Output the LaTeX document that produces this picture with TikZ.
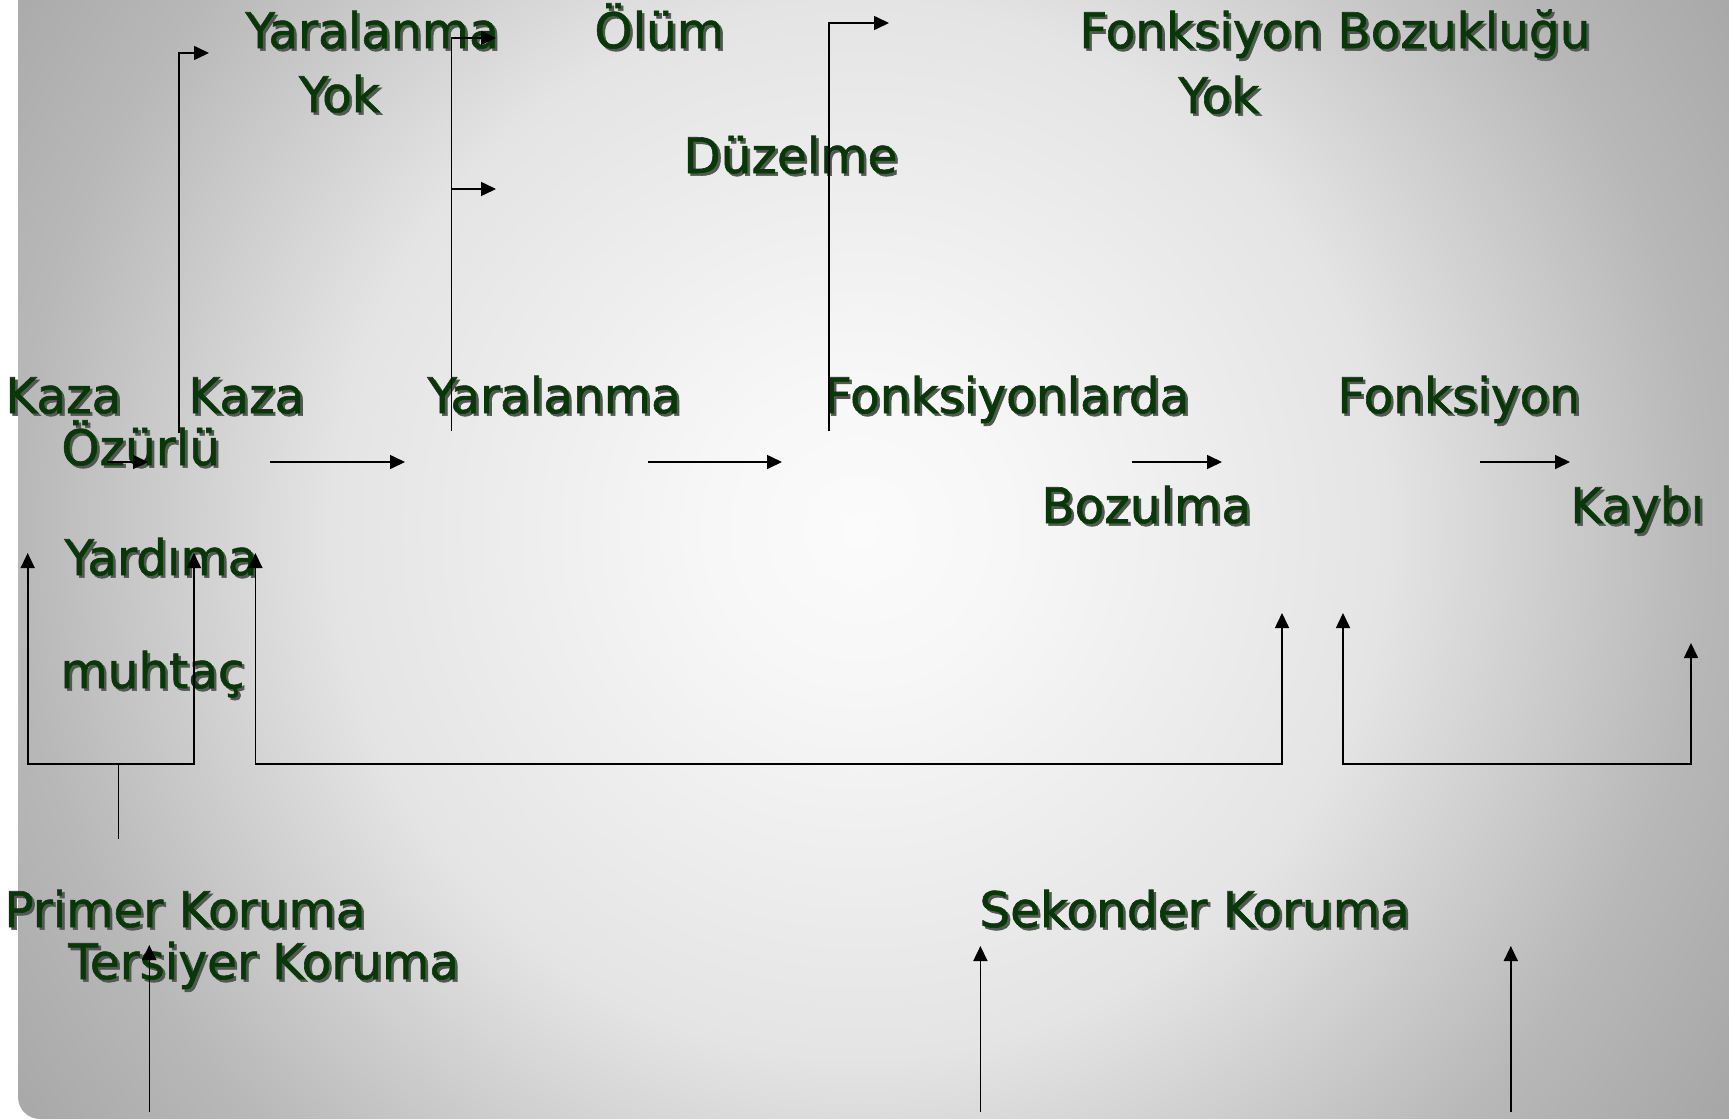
\documentclass[tikz,border=0pt]{standalone}
\usepackage{fontspec}
\setmainfont{DejaVu Sans}[FakeStretch=0.99,FakeBold=1.2]
\usetikzlibrary{arrows.meta}
\definecolor{txtgreen}{RGB}{8,56,8}
\definecolor{shadowc}{RGB}{85,85,85}
\definecolor{bgA}{RGB}{251,251,251}
\definecolor{bgB}{RGB}{247,247,247}
\definecolor{bgC}{RGB}{228,228,228}
\definecolor{bgD}{RGB}{184,184,184}
\definecolor{bgE}{RGB}{169,169,169}
\definecolor{bgF}{RGB}{163,163,163}
\pgfdeclareradialshading{bgshade}{\pgfpoint{0bp}{0bp}}{%
  color(0bp)=(bgA); color(3.4bp)=(bgB); color(12bp)=(bgC); color(19.1bp)=(bgD);
  color(23bp)=(bgE); color(25bp)=(bgF); color(50bp)=(bgF)}
\newcommand\shd[1]{\makebox[0pt][l]{\kern1.3pt\raisebox{-1.3pt}{\textcolor{shadowc}{#1}}}#1}
\begin{document}
\begin{tikzpicture}[x=0.5pt,y=-0.5pt,
  lbl/.style={anchor=base west, inner sep=0pt, text=txtgreen,
    font=\fontsize{24.5pt}{29pt}\selectfont},
  conn/.style={line width=0.8pt, draw=black},
  tip/.style={-{Triangle[length=7.5pt,width=7pt]}},
  tips/.style={{Triangle[length=7.5pt,width=7pt]}-{Triangle[length=7.5pt,width=7pt]}}]
\useasboundingbox (0,0) rectangle (1729,1119);
\fill[white] (0,0) rectangle (1729,1119);
\begin{scope}
  \clip (18,0) -- (18,1097) arc[start angle=180, end angle=270, radius=11pt]
        -- (1729,1119) -- (1729,0) -- cycle;
  \shade[shading=bgshade] (-240,-570) rectangle (1960,1630);
\end{scope}
% labels
\node[lbl] (yarT) at (245,48) {\shd{Yaralanma}};
\node[lbl] (yokL) at (298.5,112) {\shd{Yok}};
\node[lbl] (olum) at (594,48) {\shd{Ölüm}};
\node[lbl] (fbozuk) at (1079,48) {\shd{Fonksiyon Bozukluğu}};
\node[lbl] (yokR) at (1178,113) {\shd{Yok}};
\node[lbl] (duz) at (683,173) {\shd{Düzelme}};
\node[lbl] (kaza1) at (5,413) {\shd{Kaza}};
\node[lbl] (kaza2) at (188,413) {\shd{Kaza}};
\node[lbl] (yarM) at (427,413) {\shd{Yaralanma}};
\node[lbl] (fonkl) at (823.5,413) {\shd{Fonksiyonlarda}};
\node[lbl] (fonk) at (1337,413) {\shd{Fonksiyon}};
\node[lbl] (ozur) at (61,465) {\shd{Özürlü}};
\node[lbl] (bozul) at (1041,523) {\shd{Bozulma}};
\node[lbl] (kaybi) at (1570,523) {\shd{Kaybı}};
\node[lbl] (yard) at (64,575) {\shd{Yardıma}};
\node[lbl] (muht) at (60,688) {\shd{muhtaç}};
\node[lbl] (prim) at (4,927) {\shd{Primer Koruma}};
\node[lbl] (ters) at (68,979) {\shd{Tersiyer Koruma}};
\node[lbl] (sek) at (979,927) {\shd{Sekonder Koruma}};
% connector end points
\coordinate (a0) at (179,433);   \coordinate (a1) at (209,53);
\coordinate (b0) at (451.5,431); \coordinate (b1) at (496,38);
\coordinate (b2) at (451.5,189); \coordinate (b3) at (496,189);
\coordinate (c0) at (829,431);   \coordinate (c1) at (889,23);
\coordinate (s0) at (107,462);   \coordinate (s1) at (148,462);
\coordinate (d0) at (270,462);   \coordinate (d1) at (405,462);
\coordinate (e0) at (648,462);   \coordinate (e1) at (782,462);
\coordinate (g0) at (1132,462);  \coordinate (g1) at (1222,462);
\coordinate (h0) at (1480,462);  \coordinate (h1) at (1570,462);
\coordinate (l0) at (27.7,553);  \coordinate (lb) at (27.7,764); \coordinate (l1) at (194,553);
\coordinate (m0) at (118.5,764); \coordinate (m1) at (118.5,839);
\coordinate (f0) at (255.4,553); \coordinate (fb) at (255.4,764); \coordinate (f1) at (1282,613);
\coordinate (i0) at (1343,613);  \coordinate (ib) at (1343,764); \coordinate (i1) at (1691,643);
\coordinate (j0) at (149.3,1112); \coordinate (j1) at (149.3,945);
\coordinate (k0) at (980.4,1112); \coordinate (k1) at (980.4,946);
\coordinate (q0) at (1510.8,1112); \coordinate (q1) at (1510.8,946);
% connectors
\draw[conn,tip] (a0) |- (a1);
\draw[conn,tip] (b0) |- (b1);
\draw[conn,tip] (b2) -- (b3);
\draw[conn,tip] (c0) |- (c1);
\draw[conn,tip] (s0) -- (s1);
\draw[conn,tip] (d0) -- (d1);
\draw[conn,tip] (e0) -- (e1);
\draw[conn,tip] (g0) -- (g1);
\draw[conn,tip] (h0) -- (h1);
\draw[conn,tips] (l0) -- (lb) -| (l1);
\draw[conn] (m0) -- (m1);
\draw[conn,tips] (f0) -- (fb) -| (f1);
\draw[conn,tips] (i0) -- (ib) -| (i1);
\draw[conn,tip] (j0) -- (j1);
\draw[conn,tip] (k0) -- (k1);
\draw[conn,tip] (q0) -- (q1);
\end{tikzpicture}
\end{document}
